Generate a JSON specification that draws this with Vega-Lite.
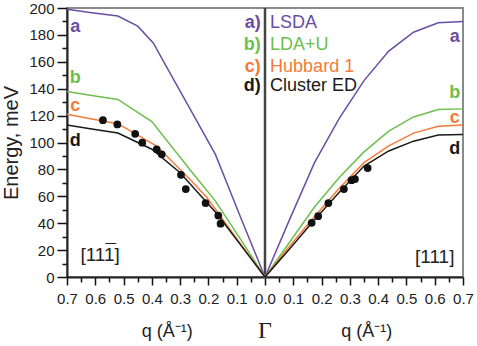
{
  "$schema": "https://vega.github.io/schema/vega-lite/v6.json",
  "width": 396,
  "height": 269,
  "autosize": "none",
  "padding": {"left": 67, "top": 8, "right": 14, "bottom": 69},
  "background": "white",
  "config": {
    "view": {"stroke": "#8a8a8a", "strokeWidth": 2},
    "font": "Liberation Sans",
    "text": {"font": "Liberation Sans"}
  },
  "resolve": {"axis": {"x": "independent", "y": "independent"}},
  "datasets": {
    "lines": [
      {"series": "LSDA", "q": -0.7, "E": 199},
      {"series": "LSDA", "q": -0.6125, "E": 196.5},
      {"series": "LSDA", "q": -0.52, "E": 194},
      {"series": "LSDA", "q": -0.45, "E": 186.5},
      {"series": "LSDA", "q": -0.395, "E": 174},
      {"series": "LSDA", "q": -0.35, "E": 157},
      {"series": "LSDA", "q": -0.2625, "E": 124},
      {"series": "LSDA", "q": -0.175, "E": 91},
      {"series": "LSDA", "q": -0.0875, "E": 45},
      {"series": "LSDA", "q": 0, "E": 0},
      {"series": "LSDA", "q": 0.0875, "E": 43},
      {"series": "LSDA", "q": 0.175, "E": 85},
      {"series": "LSDA", "q": 0.2625, "E": 118},
      {"series": "LSDA", "q": 0.35, "E": 146},
      {"series": "LSDA", "q": 0.4375, "E": 168},
      {"series": "LSDA", "q": 0.525, "E": 182},
      {"series": "LSDA", "q": 0.6125, "E": 189},
      {"series": "LSDA", "q": 0.7, "E": 190},
      {"series": "LDA+U", "q": -0.7, "E": 138},
      {"series": "LDA+U", "q": -0.6125, "E": 135},
      {"series": "LDA+U", "q": -0.52, "E": 132},
      {"series": "LDA+U", "q": -0.4, "E": 115.5},
      {"series": "LDA+U", "q": -0.2625, "E": 79},
      {"series": "LDA+U", "q": -0.177, "E": 57},
      {"series": "LDA+U", "q": -0.088, "E": 28.5},
      {"series": "LDA+U", "q": 0, "E": 0},
      {"series": "LDA+U", "q": 0.0875, "E": 26},
      {"series": "LDA+U", "q": 0.175, "E": 52},
      {"series": "LDA+U", "q": 0.2625, "E": 74},
      {"series": "LDA+U", "q": 0.35, "E": 93},
      {"series": "LDA+U", "q": 0.4375, "E": 108.5},
      {"series": "LDA+U", "q": 0.525, "E": 119},
      {"series": "LDA+U", "q": 0.6125, "E": 124.5},
      {"series": "LDA+U", "q": 0.7, "E": 125},
      {"series": "Hubbard 1", "q": -0.7, "E": 121},
      {"series": "Hubbard 1", "q": -0.6125, "E": 117.5},
      {"series": "Hubbard 1", "q": -0.52, "E": 114},
      {"series": "Hubbard 1", "q": -0.383, "E": 97.4},
      {"series": "Hubbard 1", "q": -0.2625, "E": 72},
      {"series": "Hubbard 1", "q": -0.206, "E": 59.3},
      {"series": "Hubbard 1", "q": -0.1, "E": 28.5},
      {"series": "Hubbard 1", "q": 0, "E": 0},
      {"series": "Hubbard 1", "q": 0.0875, "E": 23},
      {"series": "Hubbard 1", "q": 0.175, "E": 45},
      {"series": "Hubbard 1", "q": 0.2625, "E": 66},
      {"series": "Hubbard 1", "q": 0.35, "E": 85},
      {"series": "Hubbard 1", "q": 0.4375, "E": 97.5},
      {"series": "Hubbard 1", "q": 0.525, "E": 107},
      {"series": "Hubbard 1", "q": 0.6125, "E": 112},
      {"series": "Hubbard 1", "q": 0.7, "E": 113},
      {"series": "Cluster ED", "q": -0.7, "E": 113},
      {"series": "Cluster ED", "q": -0.6125, "E": 110},
      {"series": "Cluster ED", "q": -0.52, "E": 107},
      {"series": "Cluster ED", "q": -0.4, "E": 95},
      {"series": "Cluster ED", "q": -0.3, "E": 77.5},
      {"series": "Cluster ED", "q": -0.17, "E": 47},
      {"series": "Cluster ED", "q": -0.085, "E": 23.5},
      {"series": "Cluster ED", "q": 0, "E": 0},
      {"series": "Cluster ED", "q": 0.0875, "E": 21},
      {"series": "Cluster ED", "q": 0.175, "E": 42.5},
      {"series": "Cluster ED", "q": 0.2625, "E": 63},
      {"series": "Cluster ED", "q": 0.35, "E": 82.5},
      {"series": "Cluster ED", "q": 0.4375, "E": 93.7},
      {"series": "Cluster ED", "q": 0.525, "E": 101},
      {"series": "Cluster ED", "q": 0.6125, "E": 105.5},
      {"series": "Cluster ED", "q": 0.7, "E": 106}
    ],
    "dots": [
      {"q": -0.573, "E": 116.6},
      {"q": -0.522, "E": 113.4},
      {"q": -0.459, "E": 106.5},
      {"q": -0.434, "E": 99.9},
      {"q": -0.383, "E": 94.9},
      {"q": -0.365, "E": 91.2},
      {"q": -0.297, "E": 76},
      {"q": -0.28, "E": 65.4},
      {"q": -0.21, "E": 55},
      {"q": -0.165, "E": 45.7},
      {"q": -0.157, "E": 39.6},
      {"q": 0.165, "E": 40.3},
      {"q": 0.188, "E": 45.2},
      {"q": 0.224, "E": 55},
      {"q": 0.279, "E": 65.4},
      {"q": 0.306, "E": 72},
      {"q": 0.318, "E": 72.8},
      {"q": 0.363, "E": 81}
    ],
    "letters": [
      {"series": "LSDA", "label": "a", "q": -0.671, "E": 186},
      {"series": "LDA+U", "label": "b", "q": -0.671, "E": 147.6},
      {"series": "Hubbard 1", "label": "c", "q": -0.671, "E": 127},
      {"series": "Cluster ED", "label": "d", "q": -0.671, "E": 101},
      {"series": "LSDA", "label": "a", "q": 0.671, "E": 178.6},
      {"series": "LDA+U", "label": "b", "q": 0.671, "E": 136.5},
      {"series": "Hubbard 1", "label": "c", "q": 0.671, "E": 118},
      {"series": "Cluster ED", "label": "d", "q": 0.671, "E": 95}
    ],
    "legendKeys": [
      {"series": "LSDA", "label": "a)", "q": -0.015, "E": 189},
      {"series": "LDA+U", "label": "b)", "q": -0.015, "E": 172.7},
      {"series": "Hubbard 1", "label": "c)", "q": -0.015, "E": 156.5},
      {"series": "Cluster ED", "label": "d)", "q": -0.015, "E": 141.7}
    ],
    "legendNames": [
      {"series": "LSDA", "q": 0.018, "E": 189},
      {"series": "LDA+U", "q": 0.018, "E": 172.7},
      {"series": "Hubbard 1", "q": 0.018, "E": 156.5},
      {"series": "Cluster ED", "q": 0.018, "E": 141.7}
    ],
    "directions": [
      {"label": "[111]", "q": -0.583, "E": 16},
      {"label": "[111]", "q": 0.6, "E": 15}
    ],
    "overbar": [
      {"label": "¯", "q": -0.545, "E": 19}
    ],
    "qTitles": [
      {"label": "q (Å⁻¹)", "q": -0.346, "E": -41},
      {"label": "q (Å⁻¹)", "q": 0.36, "E": -41}
    ],
    "gamma": [
      {"label": "Γ", "q": 0, "E": -40}
    ]
  },
  "layer": [
    {
      "data": {"values": [{"q": 0, "E": 0, "E2": 200}]},
      "mark": {"type": "rule", "color": "#444444", "strokeWidth": 2.5},
      "encoding": {
        "x": {
          "field": "q", "type": "quantitative",
          "scale": {"domain": [-0.7, 0.7], "nice": false, "zero": false},
          "axis": {
            "orient": "bottom", "title": null, "grid": false, "domain": false, "labels": false, "ticks": true,
            "values": [-0.65, -0.55, -0.45, -0.35, -0.25, -0.15, -0.05, 0.05, 0.15, 0.25, 0.35, 0.45, 0.55, 0.65],
            "tickSize": 5, "tickColor": "#111111", "tickWidth": 1.5
          }
        },
        "y": {
          "field": "E", "type": "quantitative",
          "scale": {"domain": [0, 200], "nice": false},
          "axis": {
            "orient": "left", "title": null, "grid": false, "domain": false, "labels": false, "ticks": true,
            "values": [10, 30, 50, 70, 90, 110, 130, 150, 170, 190],
            "tickSize": 5, "tickColor": "#111111", "tickWidth": 1.5
          }
        },
        "y2": {"field": "E2"}
      }
    },
    {
      "data": {"name": "lines"},
      "mark": {"type": "line", "strokeWidth": 1.5},
      "encoding": {
        "x": {
          "field": "q", "type": "quantitative",
          "scale": {"domain": [-0.7, 0.7], "nice": false, "zero": false},
          "axis": {
            "orient": "bottom", "title": null, "grid": false, "ticks": true,
            "values": [-0.7, -0.6, -0.5, -0.4, -0.3, -0.2, -0.1, 0, 0.1, 0.2, 0.3, 0.4, 0.5, 0.6, 0.7],
            "labelExpr": "format(abs(datum.value), '.1f')",
            "tickSize": 8, "tickColor": "#111111", "tickWidth": 1.5,
            "domainColor": "#222222", "domainWidth": 2,
            "labelFontSize": 15, "labelColor": "#222222", "labelPadding": 6,
            "labelOverlap": false, "labelFlush": false, "labelBound": false
          }
        },
        "y": {
          "field": "E", "type": "quantitative",
          "scale": {"domain": [0, 200], "nice": false},
          "axis": {
            "orient": "left", "title": "Energy, meV", "titleFontSize": 20, "titleFontWeight": "normal",
            "titleColor": "#222222", "titlePadding": 7, "grid": false, "ticks": true,
            "values": [0, 20, 40, 60, 80, 100, 120, 140, 160, 180, 200],
            "tickSize": 10, "tickColor": "#111111", "tickWidth": 1.5,
            "domainColor": "#222222", "domainWidth": 2,
            "labelFontSize": 15, "labelColor": "#222222", "labelPadding": 3, "labelOverlap": false
          }
        },
        "color": {
          "field": "series",
          "type": "nominal",
          "scale": {"domain": ["LSDA", "LDA+U", "Hubbard 1", "Cluster ED"], "range": ["#6a4ea3", "#6cbf4c", "#f47b3a", "#1a1a1a"]},
          "legend": null
        },
        "order": {"field": "q", "type": "quantitative"}
      }
    },
    {
      "data": {"name": "dots"},
      "mark": {"type": "circle", "color": "#111111", "opacity": 1, "size": 60},
      "encoding": {
        "x": {"field": "q", "type": "quantitative", "axis": null},
        "y": {"field": "E", "type": "quantitative", "axis": null}
      }
    },
    {
      "data": {"name": "letters"},
      "mark": {"type": "text", "fontSize": 18, "fontWeight": "bold", "align": "center", "baseline": "middle"},
      "encoding": {
        "x": {"field": "q", "type": "quantitative", "axis": null},
        "y": {"field": "E", "type": "quantitative", "axis": null},
        "text": {"field": "label"},
        "color": {"field": "series", "type": "nominal", "legend": null}
      }
    },
    {
      "data": {"name": "legendKeys"},
      "mark": {"type": "text", "fontSize": 18, "fontWeight": "bold", "align": "right", "baseline": "middle"},
      "encoding": {
        "x": {"field": "q", "type": "quantitative", "axis": null},
        "y": {"field": "E", "type": "quantitative", "axis": null},
        "text": {"field": "label"},
        "color": {"field": "series", "type": "nominal", "legend": null}
      }
    },
    {
      "data": {"name": "legendNames"},
      "mark": {"type": "text", "fontSize": 18, "align": "left", "baseline": "middle"},
      "encoding": {
        "x": {"field": "q", "type": "quantitative", "axis": null},
        "y": {"field": "E", "type": "quantitative", "axis": null},
        "text": {"field": "series"},
        "color": {"field": "series", "type": "nominal", "legend": null}
      }
    },
    {
      "data": {"name": "directions"},
      "mark": {"type": "text", "fontSize": 19, "align": "center", "baseline": "middle", "color": "#222222"},
      "encoding": {
        "x": {"field": "q", "type": "quantitative", "axis": null},
        "y": {"field": "E", "type": "quantitative", "axis": null},
        "text": {"field": "label"}
      }
    },
    {
      "data": {"name": "overbar"},
      "mark": {"type": "text", "fontSize": 19, "align": "center", "baseline": "middle", "color": "#222222"},
      "encoding": {
        "x": {"field": "q", "type": "quantitative", "axis": null},
        "y": {"field": "E", "type": "quantitative", "axis": null},
        "text": {"field": "label"}
      }
    },
    {
      "data": {"name": "qTitles"},
      "mark": {"type": "text", "fontSize": 18, "align": "center", "baseline": "middle", "color": "#222222"},
      "encoding": {
        "x": {"field": "q", "type": "quantitative", "axis": null},
        "y": {"field": "E", "type": "quantitative", "axis": null},
        "text": {"field": "label"}
      }
    },
    {
      "data": {"name": "gamma"},
      "mark": {"type": "text", "fontSize": 24, "font": "Liberation Serif", "align": "center", "baseline": "middle", "color": "#222222"},
      "encoding": {
        "x": {"field": "q", "type": "quantitative", "axis": null},
        "y": {"field": "E", "type": "quantitative", "axis": null},
        "text": {"field": "label"}
      }
    }
  ]
}
